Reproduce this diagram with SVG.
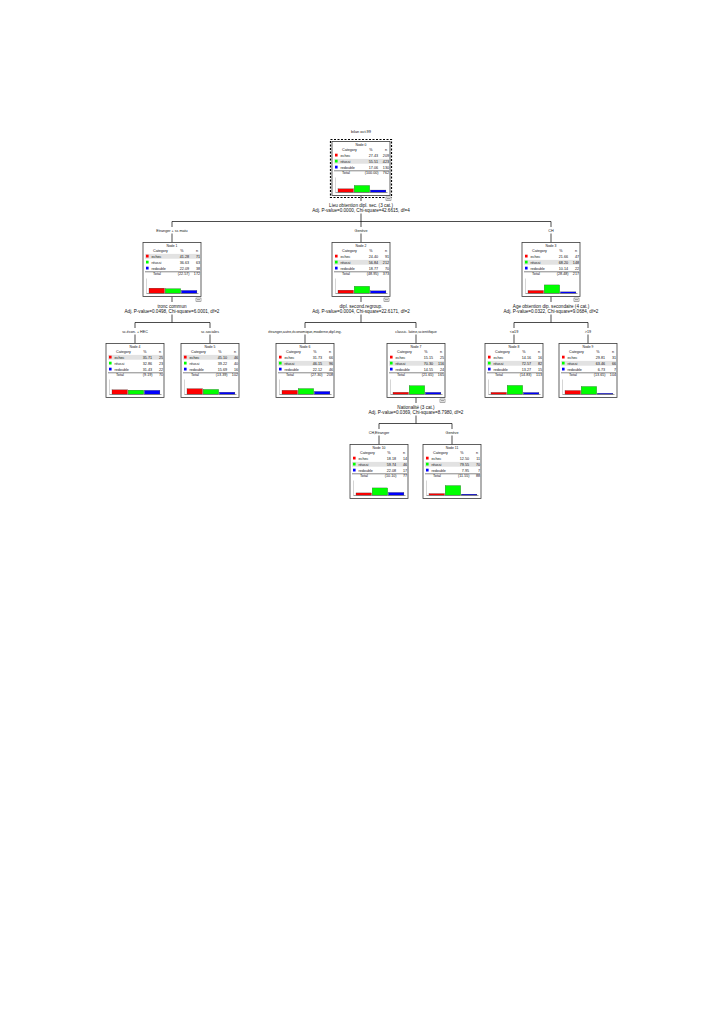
<svg xmlns="http://www.w3.org/2000/svg" width="724" height="1024" viewBox="0 0 724 1024">
<style>
.bg{fill:#fff}
.box{fill:#fff;stroke:#3a3a3a;stroke-width:0.8}
.t{font-family:"Liberation Sans",Arial,sans-serif;font-size:3.7px;fill:#111}
.ttl{font-size:3.4px;text-anchor:middle}
.r{text-anchor:end}
.m{text-anchor:middle}
.hl{fill:#e2e2e2}
.sep{stroke:#333;stroke-width:0.6}
.ax{stroke:#aaa;stroke-width:0.5}
.base{stroke:#888;stroke-width:0.8}
.ec{fill:#ff0000}
.re{fill:#00ff00}
.rd{fill:#0000ff}
.bar{stroke:#222;stroke-width:0.25}
.ico{fill:#fff;stroke:#555;stroke-width:0.5}
.conn line{stroke:#000;stroke-width:0.7}
.split{font-family:"Liberation Sans",Arial,sans-serif;font-size:4.6px;fill:#111;text-anchor:middle}
.br{font-family:"Liberation Sans",Arial,sans-serif;font-size:3.7px;fill:#111;text-anchor:middle}
.title{font-family:"Liberation Sans",Arial,sans-serif;font-size:3.9px;fill:#111;text-anchor:middle}
.sel{fill:none;stroke:#000;stroke-width:1.2;stroke-dasharray:2 1.5}
</style>
<rect class="bg" x="0" y="0" width="724" height="1024"/>
<text class="title" x="361" y="132.5">bilan oct.99</text>

<g id="connectors" class="conn">
  <line x1="361" y1="195.5" x2="361" y2="201"/>
  <line x1="361" y1="213.5" x2="361" y2="221.5"/>
  <line x1="172" y1="221.5" x2="551" y2="221.5"/>
  <line x1="172" y1="221.5" x2="172" y2="227"/>
  <line x1="172" y1="233.5" x2="172" y2="242.5"/>
  <line x1="361" y1="221.5" x2="361" y2="227"/>
  <line x1="361" y1="233.5" x2="361" y2="242.5"/>
  <line x1="551" y1="221.5" x2="551" y2="227"/>
  <line x1="551" y1="233.5" x2="551" y2="242.5"/>

  <line x1="172" y1="296.5" x2="172" y2="302"/>
  <line x1="172" y1="314.5" x2="172" y2="322.5"/>
  <line x1="135" y1="322.5" x2="210" y2="322.5"/>
  <line x1="135" y1="322.5" x2="135" y2="328"/>
  <line x1="135" y1="334.5" x2="135" y2="343.5"/>
  <line x1="210" y1="322.5" x2="210" y2="328"/>
  <line x1="210" y1="334.5" x2="210" y2="343.5"/>

  <line x1="361" y1="296.5" x2="361" y2="302"/>
  <line x1="361" y1="314.5" x2="361" y2="322.5"/>
  <line x1="305" y1="322.5" x2="416" y2="322.5"/>
  <line x1="305" y1="322.5" x2="305" y2="328"/>
  <line x1="305" y1="334.5" x2="305" y2="343.5"/>
  <line x1="416" y1="322.5" x2="416" y2="328"/>
  <line x1="416" y1="334.5" x2="416" y2="343.5"/>

  <line x1="551" y1="296.5" x2="551" y2="302"/>
  <line x1="551" y1="314.5" x2="551" y2="322.5"/>
  <line x1="514" y1="322.5" x2="588" y2="322.5"/>
  <line x1="514" y1="322.5" x2="514" y2="328"/>
  <line x1="514" y1="334.5" x2="514" y2="343.5"/>
  <line x1="588" y1="322.5" x2="588" y2="328"/>
  <line x1="588" y1="334.5" x2="588" y2="343.5"/>

  <line x1="416" y1="397.5" x2="416" y2="403"/>
  <line x1="416" y1="415.5" x2="416" y2="423.5"/>
  <line x1="379" y1="423.5" x2="452" y2="423.5"/>
  <line x1="379" y1="423.5" x2="379" y2="429"/>
  <line x1="379" y1="435.5" x2="379" y2="444.5"/>
  <line x1="452" y1="423.5" x2="452" y2="429"/>
  <line x1="452" y1="435.5" x2="452" y2="444.5"/>
</g>

<g id="split-labels">
  <text class="split" x="361" y="206.5">Lieu obtention dipl. sec. (3 cat.)</text>
  <text class="split" x="361" y="212.2">Adj. P-value=0.0000, Chi-square=42.6615, df=4</text>
  <text class="split" x="172" y="307.5">tronc commun</text>
  <text class="split" x="172" y="313.2">Adj. P-value=0.0498, Chi-square=6.0001, df=2</text>
  <text class="split" x="361" y="307.5">dipl. second.regroup.</text>
  <text class="split" x="361" y="313.2">Adj. P-value=0.0004, Chi-square=22.6171, df=2</text>
  <text class="split" x="551" y="307.5">Age obtention dip. secondaire (4 cat.)</text>
  <text class="split" x="551" y="313.2">Adj. P-value=0.0322, Chi-square=9.0684, df=2</text>
  <text class="split" x="416" y="408.5">Nationalité (3 cat.)</text>
  <text class="split" x="416" y="414.2">Adj. P-value=0.0369, Chi-square=8.7980, df=2</text>
</g>

<g id="branch-labels">
  <text class="br" x="172" y="231.8">Etranger + ss matu</text>
  <text class="br" x="361" y="231.8">Genève</text>
  <text class="br" x="551" y="231.8">CH</text>
  <text class="br" x="135" y="332.8">sc.écon. + HEC</text>
  <text class="br" x="210" y="332.8">sc.sociales</text>
  <text class="br" x="305" y="332.8">étranger,autre,économique,moderne,dipl.ing.</text>
  <text class="br" x="416" y="332.8">classic. latine,scientifique</text>
  <text class="br" x="514" y="332.8">&lt;=19</text>
  <text class="br" x="588" y="332.8">&gt;19</text>
  <text class="br" x="379" y="433.8">CH,Etranger</text>
  <text class="br" x="452" y="433.8">Genève</text>
</g>

<g id="node0" transform="translate(332,141.5)">
  <rect class="box" width="58" height="54"/>
  <rect class="sel" x="-1.5" y="-2" width="61" height="58"/>
  <rect class="hl" x="2" y="17.4" width="55" height="4.8"/>
  <text class="t ttl" x="29" y="4">Node 0</text>
  <text class="t" x="10" y="9.6">Category</text><text class="t m" x="39" y="9.6">%</text><text class="t m" x="54" y="9.6">n</text>
  <rect class="ec" x="3" y="12.2" width="2.6" height="2.8"/><text class="t" x="8.5" y="15.2">echec</text><text class="t r" x="46" y="15.2">27.43</text><text class="t r" x="57" y="15.2">209</text>
  <rect class="re" x="3" y="18.2" width="2.6" height="2.8"/><text class="t" x="8.5" y="21.2">réussi</text><text class="t r" x="46" y="21.2">55.51</text><text class="t r" x="57" y="21.2">423</text>
  <rect class="rd" x="3" y="24.2" width="2.6" height="2.8"/><text class="t" x="8.5" y="27.2">redouble</text><text class="t r" x="46" y="27.2">17.06</text><text class="t r" x="57" y="27.2">130</text>
  <line class="sep" x1="2" y1="29.3" x2="57" y2="29.3"/>
  <text class="t" x="10" y="32.9">Total</text><text class="t r" x="46.5" y="32.9">(100.00)</text><text class="t r" x="57" y="32.9">762</text>
  <line class="ax" x1="3.5" y1="36" x2="3.5" y2="51"/>
  <line class="base" x1="3.5" y1="51" x2="55.5" y2="51"/>
  <rect class="ec bar" x="6" y="47.31" width="15.5" height="3.29"/>
  <rect class="re bar" x="22.2" y="43.94" width="15.5" height="6.66"/>
  <rect class="rd bar" x="38.4" y="48.55" width="15.5" height="2.05"/>
  <rect class="ico" x="54" y="55.5" width="5" height="3.5"/><line class="sep" x1="55" y1="57.25" x2="58" y2="57.25"/>
</g>

<g id="node1" transform="translate(143,242.5)">
  <rect class="box" width="58" height="54"/>
  <rect class="hl" x="2" y="11.4" width="55" height="4.8"/>
  <text class="t ttl" x="29" y="4">Node 1</text>
  <text class="t" x="10" y="9.6">Category</text><text class="t m" x="39" y="9.6">%</text><text class="t m" x="54" y="9.6">n</text>
  <rect class="ec" x="3" y="12.2" width="2.6" height="2.8"/><text class="t" x="8.5" y="15.2">echec</text><text class="t r" x="46" y="15.2">41.28</text><text class="t r" x="57" y="15.2">71</text>
  <rect class="re" x="3" y="18.2" width="2.6" height="2.8"/><text class="t" x="8.5" y="21.2">réussi</text><text class="t r" x="46" y="21.2">36.63</text><text class="t r" x="57" y="21.2">63</text>
  <rect class="rd" x="3" y="24.2" width="2.6" height="2.8"/><text class="t" x="8.5" y="27.2">redouble</text><text class="t r" x="46" y="27.2">22.09</text><text class="t r" x="57" y="27.2">38</text>
  <line class="sep" x1="2" y1="29.3" x2="57" y2="29.3"/>
  <text class="t" x="10" y="32.9">Total</text><text class="t r" x="46.5" y="32.9">(22.57)</text><text class="t r" x="57" y="32.9">172</text>
  <line class="ax" x1="3.5" y1="36" x2="3.5" y2="51"/>
  <line class="base" x1="3.5" y1="51" x2="55.5" y2="51"/>
  <rect class="ec bar" x="6" y="45.65" width="15.5" height="4.95"/>
  <rect class="re bar" x="22.2" y="46.2" width="15.5" height="4.4"/>
  <rect class="rd bar" x="38.4" y="47.95" width="15.5" height="2.65"/>
  <rect class="ico" x="53" y="55.5" width="5" height="3.5"/><line class="sep" x1="54" y1="57.25" x2="57" y2="57.25"/>
</g>

<g id="node2" transform="translate(332,242.5)">
  <rect class="box" width="58" height="54"/>
  <rect class="hl" x="2" y="17.4" width="55" height="4.8"/>
  <text class="t ttl" x="29" y="4">Node 2</text>
  <text class="t" x="10" y="9.6">Category</text><text class="t m" x="39" y="9.6">%</text><text class="t m" x="54" y="9.6">n</text>
  <rect class="ec" x="3" y="12.2" width="2.6" height="2.8"/><text class="t" x="8.5" y="15.2">echec</text><text class="t r" x="46" y="15.2">24.40</text><text class="t r" x="57" y="15.2">91</text>
  <rect class="re" x="3" y="18.2" width="2.6" height="2.8"/><text class="t" x="8.5" y="21.2">réussi</text><text class="t r" x="46" y="21.2">56.84</text><text class="t r" x="57" y="21.2">212</text>
  <rect class="rd" x="3" y="24.2" width="2.6" height="2.8"/><text class="t" x="8.5" y="27.2">redouble</text><text class="t r" x="46" y="27.2">18.77</text><text class="t r" x="57" y="27.2">70</text>
  <line class="sep" x1="2" y1="29.3" x2="57" y2="29.3"/>
  <text class="t" x="10" y="32.9">Total</text><text class="t r" x="46.5" y="32.9">(48.95)</text><text class="t r" x="57" y="32.9">373</text>
  <line class="ax" x1="3.5" y1="36" x2="3.5" y2="51"/>
  <line class="base" x1="3.5" y1="51" x2="55.5" y2="51"/>
  <rect class="ec bar" x="6" y="47.67" width="15.5" height="2.93"/>
  <rect class="re bar" x="22.2" y="43.78" width="15.5" height="6.82"/>
  <rect class="rd bar" x="38.4" y="48.35" width="15.5" height="2.25"/>
  <rect class="ico" x="52" y="55.5" width="5" height="3.5"/><line class="sep" x1="53" y1="57.25" x2="56" y2="57.25"/>
</g>

<g id="node3" transform="translate(522,242.5)">
  <rect class="box" width="58" height="54"/>
  <rect class="hl" x="2" y="17.4" width="55" height="4.8"/>
  <text class="t ttl" x="29" y="4">Node 3</text>
  <text class="t" x="10" y="9.6">Category</text><text class="t m" x="39" y="9.6">%</text><text class="t m" x="54" y="9.6">n</text>
  <rect class="ec" x="3" y="12.2" width="2.6" height="2.8"/><text class="t" x="8.5" y="15.2">echec</text><text class="t r" x="46" y="15.2">21.66</text><text class="t r" x="57" y="15.2">47</text>
  <rect class="re" x="3" y="18.2" width="2.6" height="2.8"/><text class="t" x="8.5" y="21.2">réussi</text><text class="t r" x="46" y="21.2">68.20</text><text class="t r" x="57" y="21.2">148</text>
  <rect class="rd" x="3" y="24.2" width="2.6" height="2.8"/><text class="t" x="8.5" y="27.2">redouble</text><text class="t r" x="46" y="27.2">10.14</text><text class="t r" x="57" y="27.2">22</text>
  <line class="sep" x1="2" y1="29.3" x2="57" y2="29.3"/>
  <text class="t" x="10" y="32.9">Total</text><text class="t r" x="46.5" y="32.9">(28.48)</text><text class="t r" x="57" y="32.9">217</text>
  <line class="ax" x1="3.5" y1="36" x2="3.5" y2="51"/>
  <line class="base" x1="3.5" y1="51" x2="55.5" y2="51"/>
  <rect class="ec bar" x="6" y="48" width="15.5" height="2.6"/>
  <rect class="re bar" x="22.2" y="42.42" width="15.5" height="8.18"/>
  <rect class="rd bar" x="38.4" y="49.38" width="15.5" height="1.22"/>
  <rect class="ico" x="52" y="55.5" width="5" height="3.5"/><line class="sep" x1="53" y1="57.25" x2="56" y2="57.25"/>
</g>

<g id="node4" transform="translate(106,343.5)">
  <rect class="box" width="58" height="54"/>
  <rect class="hl" x="2" y="11.4" width="55" height="4.8"/>
  <text class="t ttl" x="29" y="4">Node 4</text>
  <text class="t" x="10" y="9.6">Category</text><text class="t m" x="39" y="9.6">%</text><text class="t m" x="54" y="9.6">n</text>
  <rect class="ec" x="3" y="12.2" width="2.6" height="2.8"/><text class="t" x="8.5" y="15.2">echec</text><text class="t r" x="46" y="15.2">35.71</text><text class="t r" x="57" y="15.2">25</text>
  <rect class="re" x="3" y="18.2" width="2.6" height="2.8"/><text class="t" x="8.5" y="21.2">réussi</text><text class="t r" x="46" y="21.2">32.86</text><text class="t r" x="57" y="21.2">23</text>
  <rect class="rd" x="3" y="24.2" width="2.6" height="2.8"/><text class="t" x="8.5" y="27.2">redouble</text><text class="t r" x="46" y="27.2">31.43</text><text class="t r" x="57" y="27.2">22</text>
  <line class="sep" x1="2" y1="29.3" x2="57" y2="29.3"/>
  <text class="t" x="10" y="32.9">Total</text><text class="t r" x="46.5" y="32.9">(9.19)</text><text class="t r" x="57" y="32.9">70</text>
  <line class="ax" x1="3.5" y1="36" x2="3.5" y2="51"/>
  <line class="base" x1="3.5" y1="51" x2="55.5" y2="51"/>
  <rect class="ec bar" x="6" y="46.31" width="15.5" height="4.29"/>
  <rect class="re bar" x="22.2" y="46.66" width="15.5" height="3.94"/>
  <rect class="rd bar" x="38.4" y="46.83" width="15.5" height="3.77"/>
</g>

<g id="node5" transform="translate(181,343.5)">
  <rect class="box" width="58" height="54"/>
  <rect class="hl" x="2" y="11.4" width="55" height="4.8"/>
  <text class="t ttl" x="29" y="4">Node 5</text>
  <text class="t" x="10" y="9.6">Category</text><text class="t m" x="39" y="9.6">%</text><text class="t m" x="54" y="9.6">n</text>
  <rect class="ec" x="3" y="12.2" width="2.6" height="2.8"/><text class="t" x="8.5" y="15.2">echec</text><text class="t r" x="46" y="15.2">45.10</text><text class="t r" x="57" y="15.2">46</text>
  <rect class="re" x="3" y="18.2" width="2.6" height="2.8"/><text class="t" x="8.5" y="21.2">réussi</text><text class="t r" x="46" y="21.2">39.22</text><text class="t r" x="57" y="21.2">40</text>
  <rect class="rd" x="3" y="24.2" width="2.6" height="2.8"/><text class="t" x="8.5" y="27.2">redouble</text><text class="t r" x="46" y="27.2">15.69</text><text class="t r" x="57" y="27.2">16</text>
  <line class="sep" x1="2" y1="29.3" x2="57" y2="29.3"/>
  <text class="t" x="10" y="32.9">Total</text><text class="t r" x="46.5" y="32.9">(13.39)</text><text class="t r" x="57" y="32.9">102</text>
  <line class="ax" x1="3.5" y1="36" x2="3.5" y2="51"/>
  <line class="base" x1="3.5" y1="51" x2="55.5" y2="51"/>
  <rect class="ec bar" x="6" y="45.19" width="15.5" height="5.41"/>
  <rect class="re bar" x="22.2" y="45.89" width="15.5" height="4.71"/>
  <rect class="rd bar" x="38.4" y="48.72" width="15.5" height="1.88"/>
</g>

<g id="node6" transform="translate(276,343.5)">
  <rect class="box" width="58" height="54"/>
  <rect class="hl" x="2" y="17.4" width="55" height="4.8"/>
  <text class="t ttl" x="29" y="4">Node 6</text>
  <text class="t" x="10" y="9.6">Category</text><text class="t m" x="39" y="9.6">%</text><text class="t m" x="54" y="9.6">n</text>
  <rect class="ec" x="3" y="12.2" width="2.6" height="2.8"/><text class="t" x="8.5" y="15.2">echec</text><text class="t r" x="46" y="15.2">31.73</text><text class="t r" x="57" y="15.2">66</text>
  <rect class="re" x="3" y="18.2" width="2.6" height="2.8"/><text class="t" x="8.5" y="21.2">réussi</text><text class="t r" x="46" y="21.2">46.15</text><text class="t r" x="57" y="21.2">96</text>
  <rect class="rd" x="3" y="24.2" width="2.6" height="2.8"/><text class="t" x="8.5" y="27.2">redouble</text><text class="t r" x="46" y="27.2">22.12</text><text class="t r" x="57" y="27.2">46</text>
  <line class="sep" x1="2" y1="29.3" x2="57" y2="29.3"/>
  <text class="t" x="10" y="32.9">Total</text><text class="t r" x="46.5" y="32.9">(27.30)</text><text class="t r" x="57" y="32.9">208</text>
  <line class="ax" x1="3.5" y1="36" x2="3.5" y2="51"/>
  <line class="base" x1="3.5" y1="51" x2="55.5" y2="51"/>
  <rect class="ec bar" x="6" y="46.79" width="15.5" height="3.81"/>
  <rect class="re bar" x="22.2" y="45.06" width="15.5" height="5.54"/>
  <rect class="rd bar" x="38.4" y="47.95" width="15.5" height="2.65"/>
</g>

<g id="node7" transform="translate(387,343.5)">
  <rect class="box" width="58" height="54"/>
  <rect class="hl" x="2" y="17.4" width="55" height="4.8"/>
  <text class="t ttl" x="29" y="4">Node 7</text>
  <text class="t" x="10" y="9.6">Category</text><text class="t m" x="39" y="9.6">%</text><text class="t m" x="54" y="9.6">n</text>
  <rect class="ec" x="3" y="12.2" width="2.6" height="2.8"/><text class="t" x="8.5" y="15.2">echec</text><text class="t r" x="46" y="15.2">15.15</text><text class="t r" x="57" y="15.2">25</text>
  <rect class="re" x="3" y="18.2" width="2.6" height="2.8"/><text class="t" x="8.5" y="21.2">réussi</text><text class="t r" x="46" y="21.2">70.30</text><text class="t r" x="57" y="21.2">116</text>
  <rect class="rd" x="3" y="24.2" width="2.6" height="2.8"/><text class="t" x="8.5" y="27.2">redouble</text><text class="t r" x="46" y="27.2">14.55</text><text class="t r" x="57" y="27.2">24</text>
  <line class="sep" x1="2" y1="29.3" x2="57" y2="29.3"/>
  <text class="t" x="10" y="32.9">Total</text><text class="t r" x="46.5" y="32.9">(21.65)</text><text class="t r" x="57" y="32.9">165</text>
  <line class="ax" x1="3.5" y1="36" x2="3.5" y2="51"/>
  <line class="base" x1="3.5" y1="51" x2="55.5" y2="51"/>
  <rect class="ec bar" x="6" y="48.78" width="15.5" height="1.82"/>
  <rect class="re bar" x="22.2" y="42.16" width="15.5" height="8.44"/>
  <rect class="rd bar" x="38.4" y="48.85" width="15.5" height="1.75"/>
  <rect class="ico" x="53" y="55.5" width="5" height="3.5"/><line class="sep" x1="54" y1="57.25" x2="57" y2="57.25"/>
</g>

<g id="node8" transform="translate(485,343.5)">
  <rect class="box" width="58" height="54"/>
  <rect class="hl" x="2" y="17.4" width="55" height="4.8"/>
  <text class="t ttl" x="29" y="4">Node 8</text>
  <text class="t" x="10" y="9.6">Category</text><text class="t m" x="39" y="9.6">%</text><text class="t m" x="54" y="9.6">n</text>
  <rect class="ec" x="3" y="12.2" width="2.6" height="2.8"/><text class="t" x="8.5" y="15.2">echec</text><text class="t r" x="46" y="15.2">14.16</text><text class="t r" x="57" y="15.2">16</text>
  <rect class="re" x="3" y="18.2" width="2.6" height="2.8"/><text class="t" x="8.5" y="21.2">réussi</text><text class="t r" x="46" y="21.2">72.57</text><text class="t r" x="57" y="21.2">82</text>
  <rect class="rd" x="3" y="24.2" width="2.6" height="2.8"/><text class="t" x="8.5" y="27.2">redouble</text><text class="t r" x="46" y="27.2">13.27</text><text class="t r" x="57" y="27.2">15</text>
  <line class="sep" x1="2" y1="29.3" x2="57" y2="29.3"/>
  <text class="t" x="10" y="32.9">Total</text><text class="t r" x="46.5" y="32.9">(14.83)</text><text class="t r" x="57" y="32.9">113</text>
  <line class="ax" x1="3.5" y1="36" x2="3.5" y2="51"/>
  <line class="base" x1="3.5" y1="51" x2="55.5" y2="51"/>
  <rect class="ec bar" x="6" y="48.9" width="15.5" height="1.7"/>
  <rect class="re bar" x="22.2" y="41.89" width="15.5" height="8.71"/>
  <rect class="rd bar" x="38.4" y="49.01" width="15.5" height="1.59"/>
</g>

<g id="node9" transform="translate(559,343.5)">
  <rect class="box" width="58" height="54"/>
  <rect class="hl" x="2" y="17.4" width="55" height="4.8"/>
  <text class="t ttl" x="29" y="4">Node 9</text>
  <text class="t" x="10" y="9.6">Category</text><text class="t m" x="39" y="9.6">%</text><text class="t m" x="54" y="9.6">n</text>
  <rect class="ec" x="3" y="12.2" width="2.6" height="2.8"/><text class="t" x="8.5" y="15.2">echec</text><text class="t r" x="46" y="15.2">29.81</text><text class="t r" x="57" y="15.2">31</text>
  <rect class="re" x="3" y="18.2" width="2.6" height="2.8"/><text class="t" x="8.5" y="21.2">réussi</text><text class="t r" x="46" y="21.2">63.46</text><text class="t r" x="57" y="21.2">66</text>
  <rect class="rd" x="3" y="24.2" width="2.6" height="2.8"/><text class="t" x="8.5" y="27.2">redouble</text><text class="t r" x="46" y="27.2">6.73</text><text class="t r" x="57" y="27.2">7</text>
  <line class="sep" x1="2" y1="29.3" x2="57" y2="29.3"/>
  <text class="t" x="10" y="32.9">Total</text><text class="t r" x="46.5" y="32.9">(13.65)</text><text class="t r" x="57" y="32.9">104</text>
  <line class="ax" x1="3.5" y1="36" x2="3.5" y2="51"/>
  <line class="base" x1="3.5" y1="51" x2="55.5" y2="51"/>
  <rect class="ec bar" x="6" y="47.02" width="15.5" height="3.58"/>
  <rect class="re bar" x="22.2" y="42.98" width="15.5" height="7.62"/>
  <rect class="rd bar" x="38.4" y="49.79" width="15.5" height="0.81"/>
</g>

<g id="node10" transform="translate(350,444.5)">
  <rect class="box" width="58" height="54"/>
  <rect class="hl" x="2" y="17.4" width="55" height="4.8"/>
  <text class="t ttl" x="29" y="4">Node 10</text>
  <text class="t" x="10" y="9.6">Category</text><text class="t m" x="39" y="9.6">%</text><text class="t m" x="54" y="9.6">n</text>
  <rect class="ec" x="3" y="12.2" width="2.6" height="2.8"/><text class="t" x="8.5" y="15.2">echec</text><text class="t r" x="46" y="15.2">18.18</text><text class="t r" x="57" y="15.2">14</text>
  <rect class="re" x="3" y="18.2" width="2.6" height="2.8"/><text class="t" x="8.5" y="21.2">réussi</text><text class="t r" x="46" y="21.2">59.74</text><text class="t r" x="57" y="21.2">46</text>
  <rect class="rd" x="3" y="24.2" width="2.6" height="2.8"/><text class="t" x="8.5" y="27.2">redouble</text><text class="t r" x="46" y="27.2">22.08</text><text class="t r" x="57" y="27.2">17</text>
  <line class="sep" x1="2" y1="29.3" x2="57" y2="29.3"/>
  <text class="t" x="10" y="32.9">Total</text><text class="t r" x="46.5" y="32.9">(10.10)</text><text class="t r" x="57" y="32.9">77</text>
  <line class="ax" x1="3.5" y1="36" x2="3.5" y2="51"/>
  <line class="base" x1="3.5" y1="51" x2="55.5" y2="51"/>
  <rect class="ec bar" x="6" y="48.42" width="15.5" height="2.18"/>
  <rect class="re bar" x="22.2" y="43.43" width="15.5" height="7.17"/>
  <rect class="rd bar" x="38.4" y="47.95" width="15.5" height="2.65"/>
</g>

<g id="node11" transform="translate(423,444.5)">
  <rect class="box" width="58" height="54"/>
  <rect class="hl" x="2" y="17.4" width="55" height="4.8"/>
  <text class="t ttl" x="29" y="4">Node 11</text>
  <text class="t" x="10" y="9.6">Category</text><text class="t m" x="39" y="9.6">%</text><text class="t m" x="54" y="9.6">n</text>
  <rect class="ec" x="3" y="12.2" width="2.6" height="2.8"/><text class="t" x="8.5" y="15.2">echec</text><text class="t r" x="46" y="15.2">12.50</text><text class="t r" x="57" y="15.2">11</text>
  <rect class="re" x="3" y="18.2" width="2.6" height="2.8"/><text class="t" x="8.5" y="21.2">réussi</text><text class="t r" x="46" y="21.2">79.55</text><text class="t r" x="57" y="21.2">70</text>
  <rect class="rd" x="3" y="24.2" width="2.6" height="2.8"/><text class="t" x="8.5" y="27.2">redouble</text><text class="t r" x="46" y="27.2">7.95</text><text class="t r" x="57" y="27.2">7</text>
  <line class="sep" x1="2" y1="29.3" x2="57" y2="29.3"/>
  <text class="t" x="10" y="32.9">Total</text><text class="t r" x="46.5" y="32.9">(11.55)</text><text class="t r" x="57" y="32.9">88</text>
  <line class="ax" x1="3.5" y1="36" x2="3.5" y2="51"/>
  <line class="base" x1="3.5" y1="51" x2="55.5" y2="51"/>
  <rect class="ec bar" x="6" y="49.1" width="15.5" height="1.5"/>
  <rect class="re bar" x="22.2" y="41.05" width="15.5" height="9.55"/>
  <rect class="rd bar" x="38.4" y="49.65" width="15.5" height="0.95"/>
</g>
</svg>
